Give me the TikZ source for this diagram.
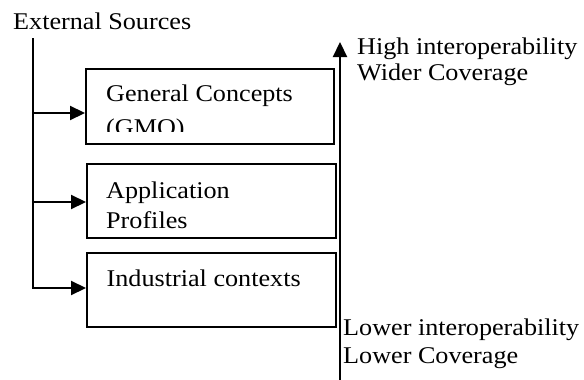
\documentclass[tikz,border=0pt]{standalone}
\usepackage{fontspec}
\setmainfont{Liberation Serif}
\usepackage{graphicx}
\usetikzlibrary{arrows.meta}
\newcommand{\tx}[1]{\scalebox{1.09}[1]{#1}}
\begin{document}
\begin{tikzpicture}[x=1pt,y=-1pt,
  boxstyle/.style={draw,line width=1.7pt,rectangle,inner sep=0pt,anchor=north west},
  lbl/.style={anchor=base west,inner sep=0pt,font=\fontsize{24}{30}\selectfont},
  conn/.style={line width=2.2pt},
  arr/.style={line width=2.2pt,-{Triangle[length=15pt,width=14pt]}}]
\useasboundingbox (0,0) rectangle (584,380);
% boxes
\node[boxstyle,minimum width=248pt,minimum height=75pt] (b1) at (85,68) {};
\node[boxstyle,minimum width=249pt,minimum height=74pt] (b2) at (86,163) {};
\node[boxstyle,minimum width=249pt,minimum height=74pt] (b3) at (86,252) {};
% texts
\node[lbl] (ext) at (13,30) {\tx{External Sources}};
\node[lbl] (gc) at (106,101.7) {\tx{General Concepts}};
\begin{scope}
\clip (86,110) rectangle (330,131.5);
\node[lbl] (gmo) at (106,135.5) {\tx{(GMO)}};
\end{scope}
\node[lbl] (ap1) at (106,198) {\tx{Application}};
\node[lbl] (ap2) at (106,228) {\tx{Profiles}};
\node[lbl] (ind) at (106.5,286.7) {\tx{Industrial contexts}};
\node[lbl] (hi1) at (357,54) {\tx{High interoperability}};
\node[lbl] (hi2) at (357,80) {\tx{Wider Coverage}};
\node[lbl] (lo1) at (343,335) {\tx{Lower interoperability}};
\node[lbl] (lo2) at (343,363) {\tx{Lower Coverage}};
% left connector
\coordinate (ltop) at (33,38);
\coordinate (l1) at (33,113);
\coordinate (l2) at (33,202);
\coordinate (l3) at (33,288);
\draw[conn] (ltop) -- ([yshift=1.1pt]l3);
\draw[arr] ([xshift=-1.1pt]l1) -- (b1.west |- l1);
\draw[arr] ([xshift=-1.1pt]l2) -- (b2.west |- l2);
\draw[arr] ([xshift=-1.1pt]l3) -- (b3.west |- l3);
% right vertical arrow
\coordinate (vbot) at (340,381);
\coordinate (vtop) at (340,42);
\draw[arr] (vbot) -- (vtop);
\end{tikzpicture}
\end{document}
